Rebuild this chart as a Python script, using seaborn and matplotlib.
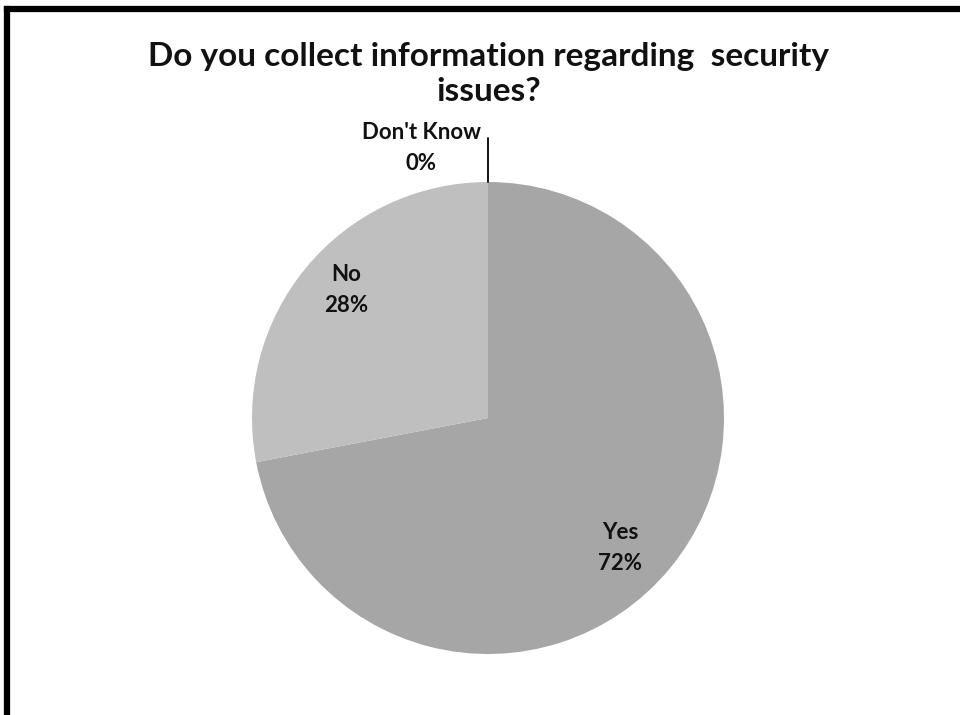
import matplotlib
matplotlib.use("Agg")
import matplotlib.pyplot as plt
import seaborn as sns
import numpy as np

# Survey answers
categories = ["Yes", "No", "Don't Know"]
shares = [72, 28, 0]
colors = ["#a6a6a6", "#bfbfbf", "#d9d9d9"]
title = "Do you collect information regarding  security\nissues?"

sns.set_theme(style="white")
plt.rcParams["font.family"] = ["Lato", "DejaVu Sans"]

W, H = 960, 715
fig = plt.figure(figsize=(W / 100, H / 100), dpi=100)
ax = fig.add_axes([0, 0, 1, 1])

# Pie centre and radius in pixel units (y measured from the bottom)
cx, cy, r = 488, H - 418, 236
wedges, _ = ax.pie(shares, colors=colors, startangle=90, counterclock=False,
                   center=(cx, cy), radius=r, frame=True,
                   wedgeprops=dict(linewidth=0))
ax.set_xlim(0, W)
ax.set_ylim(0, H)
ax.set_aspect("equal")
ax.axis("off")

# Data labels
label_pos = {"Yes": (620, 548), "No": (346, 290), "Don't Know": (421, 148)}
for cat, val in zip(categories, shares):
    x, y = label_pos[cat]
    ax.text(x, H - y, f"{cat}\n{val}%", ha="center", va="center",
            fontsize=16, fontweight="bold", linespacing=1.6, color="#111111")

# Leader line for the zero-size slice
ax.plot([cx, cx], [H - 138, cy + r], color="black", lw=1.3)

# Title
ax.text(489, H - 74, title, ha="center", va="center", fontsize=24,
        fontweight="bold", linespacing=1.28, color="#111111")

# Chart frame (left and top edges visible)
ax.plot([7, 7], [0, H - 9], color="black", lw=4.5, solid_capstyle="projecting")
ax.plot([7, W], [H - 9, H - 9], color="black", lw=4.5, solid_capstyle="projecting")

fig.savefig("out.png", dpi=100)
